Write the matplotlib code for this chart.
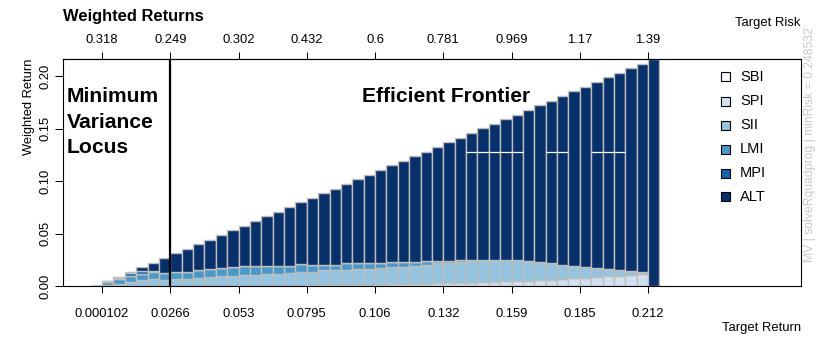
import matplotlib
matplotlib.use("Agg")
import matplotlib.pyplot as plt
from matplotlib.patches import Rectangle
from matplotlib import font_manager
import numpy as np

plt.rcParams['font.family'] = ['Liberation Sans', 'DejaVu Sans']

# Weighted returns (weight x mean return) for each frontier portfolio
assets = ["SBI", "SPI", "SII", "LMI", "MPI", "ALT"]

SBI = [0.0001, 0.0001, 0.0001, 0.0001, 0.0001, 0.0001, 0.0001, 0, 0, 0,
       0, 0, 0, 0, 0, 0, 0, 0, 0, 0,
       0, 0, 0, 0, 0, 0, 0, 0, 0, 0,
       0, 0, 0, 0, 0, 0, 0, 0, 0, 0,
       0, 0, 0, 0, 0, 0, 0, 0, 0, 0]
SPI = [0, 0, 0, 0, 0, 0, 0, 0, 0, 0,
       0, 0, 0, 0, 0, 0, 0, 0, 0, 0.0005,
       0.0006, 0.0008, 0.0009, 0.0010, 0.0012, 0.0014, 0.0015, 0.0017, 0.0018, 0.0020,
       0.0030, 0.0031, 0.0032, 0.0033, 0.0035, 0.0040, 0.0044, 0.0045, 0.0047, 0.0055,
       0.0060, 0.0068, 0.0075, 0.0080, 0.0083, 0.0092, 0.0095, 0.0108, 0.0110, 0]
SII = [0, 0.0005, 0.0019, 0.0037, 0.0053, 0.0063, 0.0059, 0.0064, 0.0070, 0.0080,
       0.0086, 0.0092, 0.0092, 0.0102, 0.0102, 0.0114, 0.0114, 0.0124, 0.0130, 0.0129,
       0.0144, 0.0142, 0.0147, 0.0149, 0.0153, 0.0158, 0.0163, 0.0166, 0.0172, 0.0180,
       0.0185, 0.0191, 0.0198, 0.0218, 0.0216, 0.0211, 0.0207, 0.0200, 0.0188, 0.0174,
       0.0156, 0.0136, 0.0115, 0.0098, 0.0089, 0.0067, 0.0058, 0.0038, 0.0024, 0]
LMI = [0, 0.0035, 0.0045, 0.0054, 0.0060, 0.0067, 0.0060, 0.0067, 0.0067, 0.0070,
       0.0080, 0.0083, 0.0089, 0.0089, 0.0089, 0.0077, 0.0077, 0.0064, 0.0076, 0.0066,
       0.0050, 0.0050, 0.0060, 0.0057, 0.0051, 0.0048, 0.0046, 0.0043, 0.0040, 0.0034,
       0.0023, 0.0018, 0.0013, 0, 0, 0, 0, 0, 0, 0,
       0, 0, 0, 0, 0, 0, 0, 0, 0, 0]
MPI = [0, 0.0004, 0.0013, 0.0032, 0.0025, 0.0010, 0.0004, 0, 0, 0,
       0, 0, 0, 0, 0, 0, 0, 0, 0, 0,
       0, 0, 0, 0, 0, 0, 0, 0, 0, 0,
       0, 0, 0, 0, 0, 0, 0, 0, 0, 0,
       0, 0, 0, 0, 0, 0, 0, 0, 0, 0]
ALT = [0, 0, 0.0011, 0.0010, 0.0039, 0.0081, 0.0142, 0.0179, 0.0217, 0.0248,
       0.0276, 0.0312, 0.0350, 0.0384, 0.0428, 0.0472, 0.0516, 0.0563, 0.0590, 0.0640,
       0.0684, 0.0728, 0.0756, 0.0800, 0.0844, 0.0885, 0.0925, 0.0967, 0.1007, 0.1047,
       0.1087, 0.1129, 0.1171, 0.1207, 0.1251, 0.1295, 0.1339, 0.1389, 0.1443, 0.1494,
       0.1551, 0.1607, 0.1665, 0.1721, 0.1771, 0.1828, 0.1879, 0.1930, 0.1986, 0.2164]

colors = ["#F7FBFF", "#D0E1F2", "#94C4DF", "#4A98C9", "#1764AB", "#08306B"]

# Axis labelling (every 6th frontier point)
tick_points = [1, 7, 13, 19, 25, 31, 37, 43, 49]
return_labels = ["0.000102", "0.0266", "0.053", "0.0795", "0.106",
                 "0.132", "0.159", "0.185", "0.212"]
risk_labels = ["0.318", "0.249", "0.302", "0.432", "0.6",
               "0.781", "0.969", "1.17", "1.39"]
min_index = 8
y_ticks = [0.00, 0.05, 0.10, 0.15, 0.20]

W, H = 829, 340
fig = plt.figure(figsize=(W / 100, H / 100), dpi=100)


def fx(px):
    return px / W


def fy(py):
    return 1 - py / H


ax = fig.add_axes([fx(63), fy(286), fx(801) - fx(63), fy(58.7) - fy(286)])

series = [SBI, SPI, SII, LMI, MPI, ALT]
n = len(ALT)
centers = np.arange(n) + 0.5
bottom = np.zeros(n)
for vals, col in zip(series, colors):
    vals = np.array(vals, dtype=float)
    ax.bar(centers, vals, width=1.0, bottom=bottom, color=col,
           edgecolor="#BEBEBE", linewidth=1.0, zorder=2)
    bottom += vals

ax.set_xlim(-2.43, 62.45)
ax.set_ylim(0, 0.2166)

# Minimum variance locus marker
ax.axvline(min_index - 1, color="black", lw=1.6, zorder=4)

# thin white strokes across the upper frontier bars
for a, b in [(33, 38), (40, 42), (44, 47)]:
    ax.hlines(0.128, a, b, colors="white", lw=0.9, zorder=3)

for sp in ax.spines.values():
    sp.set_linewidth(0.8)
    sp.set_color("black")

ax.set_xticks(tick_points)
ax.set_xticklabels(return_labels)
ax.tick_params(axis="x", direction="out", length=5, width=0.75,
               labelsize=9.4, pad=11)
ax.set_yticks(y_ticks)
ax.set_yticklabels(["%.2f" % v for v in y_ticks], rotation=90, va="center")
ax.tick_params(axis="y", direction="out", length=5.5, width=0.75,
               labelsize=9.4, pad=2.5)

sec = ax.secondary_xaxis("top")
sec.set_xticks(tick_points)
sec.set_xticklabels(risk_labels)
sec.tick_params(direction="out", length=5, width=0.75, labelsize=9.4, pad=4.5)
sec.spines["top"].set_linewidth(0.8)

# Titles and axis captions
fig.text(fx(63), fy(16), "Weighted Returns", fontsize=11.9, fontweight="bold",
         ha="left", va="center")
fig.text(fx(800), fy(23), "Target Risk", fontsize=9.4, ha="right", va="center")
fig.text(fx(801), fy(328), "Target Return", fontsize=9.4, ha="right", va="center")
fig.text(fx(29), fy(58.7), "Weighted Return", fontsize=9.3, rotation=90,
         ha="center", va="top")

for txt, base in [("Minimum", 101.5), ("Variance", 127.5), ("Locus", 153)]:
    fig.text(fx(67), fy(base), txt, fontsize=15.2, fontweight="bold",
             ha="left", va="baseline")
fig.text(fx(362), fy(101.5), "Efficient Frontier", fontsize=15.1,
         fontweight="bold", ha="left", va="baseline")

# Legend
installed = {f.name for f in font_manager.fontManager.ttflist}
legend_family = (["Liberation Sans Narrow", "Liberation Sans"]
                 if "Liberation Sans Narrow" in installed
                 else ["Liberation Sans"])
rows = [76.7, 101, 125, 149.3, 173.3, 196.7]
for name, col, yc in zip(assets, colors, rows):
    fig.patches.append(Rectangle((fx(721.5), fy(yc + 4.5)), fx(730.5) - fx(721.5),
                                 fy(yc - 4.5) - fy(yc + 4.5), facecolor=col,
                                 edgecolor="black", linewidth=0.8,
                                 transform=fig.transFigure, figure=fig))
    fig.text(fx(740), fy(yc), name, fontsize=10.5, family=legend_family,
             ha="left", va="center")

fig.text(fx(810), fy(145), "MV | solveRquadprog | minRisk = 0.248532",
         fontsize=8.7, color="#C8C8C8", rotation=90, ha="center", va="center")

fig.savefig("out.png", dpi=100)
